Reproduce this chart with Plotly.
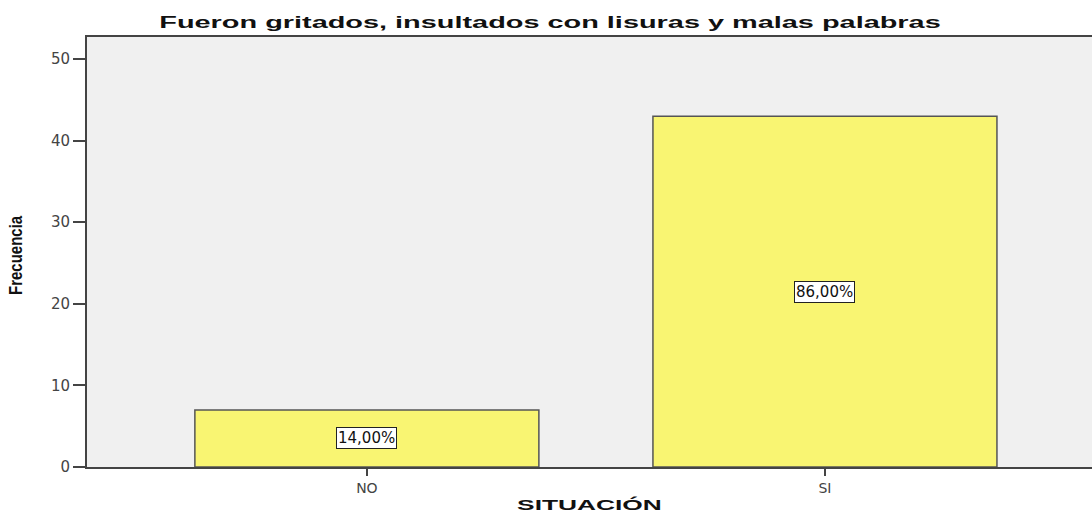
import plotly.graph_objects as go

categories = ["NO", "SI"]
frecuencia = [7, 43]
porcentajes = ["14,00%", "86,00%"]
y_ticks = [0, 10, 20, 30, 40, 50]

WIDE = "DejaVu Sans, Verdana, Arial"
ARIAL = "Liberation Sans, Arial"

fig = go.Figure()
fig.add_trace(go.Bar(
    x=categories, y=frecuencia, width=0.751,
    marker=dict(color="#F9F572", line=dict(color="#555555", width=1.5)),
    hoverinfo="skip",
))

for c, v, p in zip(categories, frecuencia, porcentajes):
    fig.add_annotation(x=c, y=v / 2, text=p, showarrow=False,
                       font=dict(family=WIDE, size=15, color="#111111"),
                       bgcolor="white", bordercolor="#222222", borderwidth=1, borderpad=1)

fig.add_annotation(xref="paper", yref="paper", x=-(87 - 16) / 1005, y=(467 - 255) / 430,
                   text="<b>Frecuencia</b>", showarrow=False, textangle=-90,
                   xanchor="center", yanchor="middle",
                   font=dict(family=ARIAL, size=15, color="#111111"))

fig.update_layout(
    width=1092, height=513,
    margin=dict(l=87, r=0, t=37, b=46, autoexpand=False),
    paper_bgcolor="white", plot_bgcolor="#F0F0F0",
    showlegend=False,
    title=dict(text="<b>Fueron gritados, insultados con lisuras y malas palabras</b>",
               x=550 / 1092, xanchor="center", y=1 - 22 / 513, yanchor="middle",
               font=dict(family=ARIAL, size=17, color="#111111")),
    xaxis=dict(range=[-0.611, 1.583], showgrid=False, zeroline=False, automargin=False,
               showline=True, linecolor="#444444", linewidth=2, mirror=True,
               ticks="outside", ticklen=7, tickcolor="#444444", tickwidth=2,
               tickfont=dict(family=WIDE, size=14, color="#444444"),
               title=dict(text="<b>SITUACIÓN</b>", standoff=10,
                          font=dict(family=ARIAL, size=14, color="#111111"))),
    yaxis=dict(range=[0, 52.7], tickvals=y_ticks, showgrid=False, zeroline=False, automargin=False,
               showline=True, linecolor="#444444", linewidth=2,
               ticks="outside", ticklen=12, tickcolor="#444444", tickwidth=2,
               tickfont=dict(family=WIDE, size=15, color="#444444")),
)

fig.write_html("out.html", config={"displayModeBar": False})

css = ("<style>body{margin:0;padding:0;overflow:hidden}"
       ".gtitle{transform-box:fill-box;transform-origin:center;transform:scaleX(1.7)}"
       ".xtitle{transform-box:fill-box;transform-origin:center;transform:scaleX(1.88)}"
       ".annotation[data-index='2'] .annotation-text{transform-box:fill-box;"
       "transform-origin:center;transform:scaleY(1.25)}"
       "</style>")
with open("out.html", encoding="utf-8") as f:
    html = f.read()
html = html.replace("</head>", css + "</head>", 1)
with open("out.html", "w", encoding="utf-8") as f:
    f.write(html)
